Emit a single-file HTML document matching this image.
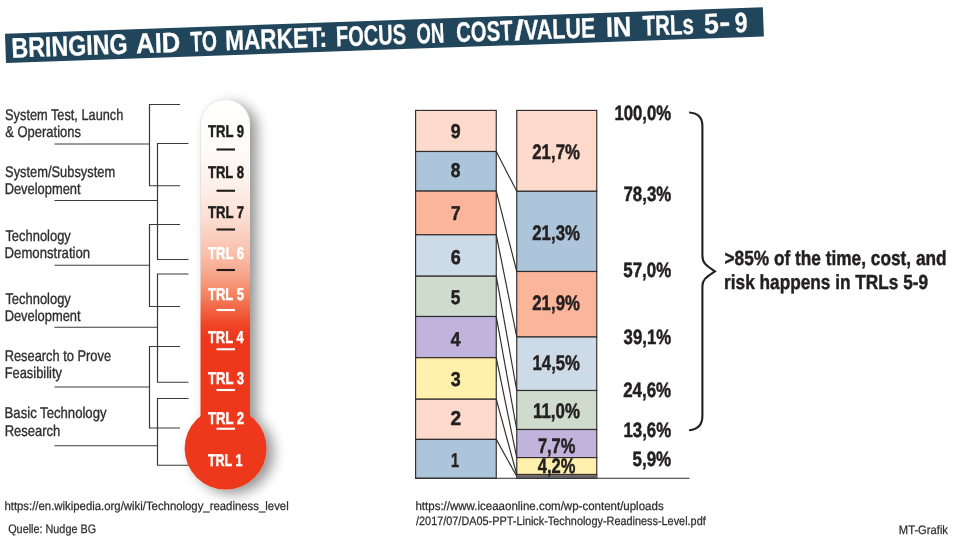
<!DOCTYPE html>
<html lang="en"><head><meta charset="utf-8"><title>Bringing AID to market</title>
<style>
html,body{margin:0;padding:0;background:#fff;}
body{width:960px;height:539px;overflow:hidden;}
svg{display:block;font-family:'Liberation Sans',sans-serif;}
text{white-space:pre;}
</style></head><body>
<svg width="960" height="539" viewBox="0 0 960 539" font-family="Liberation Sans, sans-serif" text-rendering="geometricPrecision">
<rect width="960" height="539" fill="#ffffff"/>
<g transform="translate(5,33.75) rotate(-2.0)">
<rect x="0" y="0" width="758.3" height="29.2" fill="#21455b"/>
<text y="24.1" font-size="28.2" font-weight="bold" fill="#ffffff" stroke="#ffffff" stroke-width="0.3" xml:space="preserve"><tspan x="5.86" textLength="116.06" lengthAdjust="spacingAndGlyphs">BRINGING</tspan> <tspan x="130.6" textLength="44.24" lengthAdjust="spacingAndGlyphs">AID</tspan> <tspan x="185.06" textLength="26.44" lengthAdjust="spacingAndGlyphs">TO</tspan> <tspan x="219.78" textLength="101.75" lengthAdjust="spacingAndGlyphs">MARKET:</tspan> <tspan x="330.52" textLength="70.17" lengthAdjust="spacingAndGlyphs">FOCUS</tspan> <tspan x="411.15" textLength="27.77" lengthAdjust="spacingAndGlyphs">ON</tspan> <tspan x="450.9" textLength="56.38" lengthAdjust="spacingAndGlyphs">COST</tspan><tspan x="509.08" textLength="9.79" lengthAdjust="spacingAndGlyphs">/</tspan><tspan x="518.73" textLength="71.33" lengthAdjust="spacingAndGlyphs">VALUE</tspan> <tspan x="600.82" textLength="25.43" lengthAdjust="spacingAndGlyphs">IN</tspan> <tspan x="637.62" textLength="51.1" lengthAdjust="spacingAndGlyphs">TRLs</tspan> <tspan x="698.76" textLength="14.88" lengthAdjust="spacingAndGlyphs">5</tspan><tspan x="714.1" dy="-1.3" textLength="11.02" lengthAdjust="spacingAndGlyphs">-</tspan><tspan x="729.6" dy="1.3" textLength="12.87" lengthAdjust="spacingAndGlyphs">9</tspan></text>
</g>
<text x="5.12" y="120" font-size="15.5" font-weight="normal" fill="#2e2e2e" stroke="#2e2e2e" stroke-width="0.35" textLength="118.21" lengthAdjust="spacingAndGlyphs">System Test, Launch</text>
<text x="5.24" y="137" font-size="15.5" font-weight="normal" fill="#2e2e2e" stroke="#2e2e2e" stroke-width="0.35" textLength="75.72" lengthAdjust="spacingAndGlyphs">&amp; Operations</text>
<text x="5.12" y="177" font-size="15.5" font-weight="normal" fill="#2e2e2e" stroke="#2e2e2e" stroke-width="0.35" textLength="109.98" lengthAdjust="spacingAndGlyphs">System/Subsystem</text>
<text x="4.64" y="194" font-size="15.5" font-weight="normal" fill="#2e2e2e" stroke="#2e2e2e" stroke-width="0.35" textLength="75.95" lengthAdjust="spacingAndGlyphs">Development</text>
<text x="5.41" y="241" font-size="15.5" font-weight="normal" fill="#2e2e2e" stroke="#2e2e2e" stroke-width="0.35" textLength="65.37" lengthAdjust="spacingAndGlyphs">Technology</text>
<text x="4.62" y="258" font-size="15.5" font-weight="normal" fill="#2e2e2e" stroke="#2e2e2e" stroke-width="0.35" textLength="85.48" lengthAdjust="spacingAndGlyphs">Demonstration</text>
<text x="5.41" y="304" font-size="15.5" font-weight="normal" fill="#2e2e2e" stroke="#2e2e2e" stroke-width="0.35" textLength="65.37" lengthAdjust="spacingAndGlyphs">Technology</text>
<text x="4.64" y="321" font-size="15.5" font-weight="normal" fill="#2e2e2e" stroke="#2e2e2e" stroke-width="0.35" textLength="75.95" lengthAdjust="spacingAndGlyphs">Development</text>
<text x="4.65" y="361" font-size="15.5" font-weight="normal" fill="#2e2e2e" stroke="#2e2e2e" stroke-width="0.35" textLength="106.43" lengthAdjust="spacingAndGlyphs">Research to Prove</text>
<text x="4.64" y="378" font-size="15.5" font-weight="normal" fill="#2e2e2e" stroke="#2e2e2e" stroke-width="0.35" textLength="57.38" lengthAdjust="spacingAndGlyphs">Feasibility</text>
<text x="4.62" y="418" font-size="15.5" font-weight="normal" fill="#2e2e2e" stroke="#2e2e2e" stroke-width="0.35" textLength="101.9" lengthAdjust="spacingAndGlyphs">Basic Technology</text>
<text x="4.63" y="436" font-size="15.5" font-weight="normal" fill="#2e2e2e" stroke="#2e2e2e" stroke-width="0.35" textLength="55.71" lengthAdjust="spacingAndGlyphs">Research</text>
<polyline points="180,104.5 149.5,104.5 149.5,185.75 180,185.75" fill="none" stroke="#3a3a3a" stroke-width="1.2"/>
<polyline points="180,224.5 149.5,224.5 149.5,306.5 180,306.5" fill="none" stroke="#3a3a3a" stroke-width="1.2"/>
<polyline points="180,346.5 149.5,346.5 149.5,428 180,428" fill="none" stroke="#3a3a3a" stroke-width="1.2"/>
<polyline points="188.5,143.5 157.5,143.5 157.5,259.5 188.5,259.5" fill="none" stroke="#3a3a3a" stroke-width="1.2"/>
<polyline points="188.5,274 157.5,274 157.5,382.25 188.5,382.25" fill="none" stroke="#3a3a3a" stroke-width="1.2"/>
<polyline points="188.5,398.5 157.5,398.5 157.5,465.25 188.5,465.25" fill="none" stroke="#3a3a3a" stroke-width="1.2"/>
<line x1="54.5" y1="144" x2="149.5" y2="144" stroke="#3a3a3a" stroke-width="1.2"/>
<line x1="54.5" y1="200.5" x2="157.5" y2="200.5" stroke="#3a3a3a" stroke-width="1.2"/>
<line x1="54.5" y1="265.25" x2="149.5" y2="265.25" stroke="#3a3a3a" stroke-width="1.2"/>
<line x1="54.5" y1="327.25" x2="157.5" y2="327.25" stroke="#3a3a3a" stroke-width="1.2"/>
<line x1="54.5" y1="387" x2="149.5" y2="387" stroke="#3a3a3a" stroke-width="1.2"/>
<line x1="54.5" y1="445.75" x2="157.5" y2="445.75" stroke="#3a3a3a" stroke-width="1.2"/>
<defs>
<linearGradient id="tg" x1="0" y1="99" x2="0" y2="420" gradientUnits="userSpaceOnUse">
<stop offset="0.0000" stop-color="#ffffff"/>
<stop offset="0.1589" stop-color="#fffbf9"/>
<stop offset="0.2835" stop-color="#fdeee8"/>
<stop offset="0.3614" stop-color="#fce0d5"/>
<stop offset="0.4237" stop-color="#fbd0c0"/>
<stop offset="0.4860" stop-color="#f9bda8"/>
<stop offset="0.5483" stop-color="#f7a58b"/>
<stop offset="0.6106" stop-color="#f4825f"/>
<stop offset="0.6573" stop-color="#f16342"/>
<stop offset="0.7040" stop-color="#ef4526"/>
<stop offset="0.7383" stop-color="#ee391d"/>
<stop offset="1.0000" stop-color="#ee371c"/>
</linearGradient>
<filter id="sh" x="-40%" y="-10%" width="200%" height="130%">
<feGaussianBlur in="SourceAlpha" stdDeviation="6.5"/>
<feOffset dx="7" dy="4" result="o"/>
<feComponentTransfer><feFuncA type="linear" slope="0.42"/></feComponentTransfer>
<feMerge><feMergeNode/><feMergeNode in="SourceGraphic"/></feMerge>
</filter>
</defs>
<g filter="url(#sh)">
<path d="M200.5,440 L200.5,124.25 A24.75,24.75 0 0 1 250,124.25 L250,440 Z" fill="url(#tg)"/>
<circle cx="225.6" cy="448.5" r="41" fill="#ee371c"/>
</g>
<path d="M200.5,300 L200.5,124.25 A24.75,24.75 0 0 1 250,124.25" fill="none" stroke="#d9d9d9" stroke-width="0.6"/>
<text x="207.95" y="137" font-size="17.1" font-weight="bold" fill="#1d1d1b" stroke="#1d1d1b" stroke-width="0.45" textLength="36.13" lengthAdjust="spacingAndGlyphs">TRL 9</text>
<text x="207.95" y="178" font-size="17.1" font-weight="bold" fill="#1d1d1b" stroke="#1d1d1b" stroke-width="0.45" textLength="36.05" lengthAdjust="spacingAndGlyphs">TRL 8</text>
<text x="207.95" y="218" font-size="17.1" font-weight="bold" fill="#1d1d1b" stroke="#1d1d1b" stroke-width="0.45" textLength="36.22" lengthAdjust="spacingAndGlyphs">TRL 7</text>
<text x="207.95" y="259" font-size="17.1" font-weight="bold" fill="#ffffff" stroke="#ffffff" stroke-width="0.45" textLength="36.12" lengthAdjust="spacingAndGlyphs">TRL 6</text>
<text x="207.95" y="300" font-size="17.1" font-weight="bold" fill="#ffffff" stroke="#ffffff" stroke-width="0.45" textLength="36.01" lengthAdjust="spacingAndGlyphs">TRL 5</text>
<text x="207.95" y="343" font-size="17.1" font-weight="bold" fill="#ffffff" stroke="#ffffff" stroke-width="0.45" textLength="35.71" lengthAdjust="spacingAndGlyphs">TRL 4</text>
<text x="207.95" y="384" font-size="17.1" font-weight="bold" fill="#ffffff" stroke="#ffffff" stroke-width="0.45" textLength="36.12" lengthAdjust="spacingAndGlyphs">TRL 3</text>
<text x="207.95" y="424" font-size="17.1" font-weight="bold" fill="#ffffff" stroke="#ffffff" stroke-width="0.45" textLength="36.17" lengthAdjust="spacingAndGlyphs">TRL 2</text>
<text x="207.96" y="466" font-size="17.1" font-weight="bold" fill="#ffffff" stroke="#ffffff" stroke-width="0.45" textLength="34.39" lengthAdjust="spacingAndGlyphs">TRL 1</text>
<line x1="216.5" y1="149.5" x2="235" y2="149.5" stroke="#1d1d1b" stroke-width="2.1"/>
<line x1="216.5" y1="190.75" x2="235" y2="190.75" stroke="#1d1d1b" stroke-width="2.1"/>
<line x1="216.5" y1="229.5" x2="235" y2="229.5" stroke="#1d1d1b" stroke-width="2.1"/>
<line x1="216.5" y1="270" x2="235" y2="270" stroke="#1d1d1b" stroke-width="2.1"/>
<line x1="216.5" y1="310" x2="235" y2="310" stroke="#ffffff" stroke-width="2.1"/>
<line x1="216.5" y1="349.25" x2="235" y2="349.25" stroke="#ffffff" stroke-width="2.1"/>
<line x1="216.5" y1="390" x2="235" y2="390" stroke="#ffffff" stroke-width="2.1"/>
<line x1="216.5" y1="428.75" x2="235" y2="428.75" stroke="#ffffff" stroke-width="2.1"/>
<rect x="415.6" y="110.4" width="80.65" height="41.1" fill="#fddacb" stroke="#2f2c2b" stroke-width="1.15"/>
<rect x="415.6" y="151.5" width="80.65" height="39.6" fill="#acc5da" stroke="#2f2c2b" stroke-width="1.15"/>
<rect x="415.6" y="191.1" width="80.65" height="43.7" fill="#fbb59a" stroke="#2f2c2b" stroke-width="1.15"/>
<rect x="415.6" y="234.8" width="80.65" height="41.4" fill="#cddbe8" stroke="#2f2c2b" stroke-width="1.15"/>
<rect x="415.6" y="276.2" width="80.65" height="40.3" fill="#cfdccd" stroke="#2f2c2b" stroke-width="1.15"/>
<rect x="415.6" y="316.5" width="80.65" height="41.2" fill="#c0b4dc" stroke="#2f2c2b" stroke-width="1.15"/>
<rect x="415.6" y="357.7" width="80.65" height="41.5" fill="#fff0ae" stroke="#2f2c2b" stroke-width="1.15"/>
<rect x="415.6" y="399.2" width="80.65" height="40.2" fill="#fddacb" stroke="#2f2c2b" stroke-width="1.15"/>
<rect x="415.6" y="439.4" width="80.65" height="38.85" fill="#acc5da" stroke="#2f2c2b" stroke-width="1.15"/>
<rect x="516.75" y="110.4" width="80.0" height="80.9" fill="#fddacb" stroke="#2f2c2b" stroke-width="1.15"/>
<rect x="516.75" y="191.3" width="80.0" height="80.2" fill="#acc5da" stroke="#2f2c2b" stroke-width="1.15"/>
<rect x="516.75" y="271.5" width="80.0" height="65.5" fill="#fbb59a" stroke="#2f2c2b" stroke-width="1.15"/>
<rect x="516.75" y="337.0" width="80.0" height="53.5" fill="#cddbe8" stroke="#2f2c2b" stroke-width="1.15"/>
<rect x="516.75" y="390.5" width="80.0" height="39.0" fill="#cfdccd" stroke="#2f2c2b" stroke-width="1.15"/>
<rect x="516.75" y="429.5" width="80.0" height="28.1" fill="#c0b4dc" stroke="#2f2c2b" stroke-width="1.15"/>
<rect x="516.75" y="457.6" width="80.0" height="16.9" fill="#fff0ae" stroke="#2f2c2b" stroke-width="1.15"/>
<rect x="516.75" y="474.5" width="80.0" height="1.8" fill="#fddacb" stroke="#2f2c2b" stroke-width="1.15"/>
<rect x="516.75" y="476.3" width="80.0" height="1.95" fill="#acc5da" stroke="#2f2c2b" stroke-width="1.15"/>
<line x1="496.25" y1="151.5" x2="516.75" y2="191.3" stroke="#2f2c2b" stroke-width="1.15"/>
<line x1="496.25" y1="191.1" x2="516.75" y2="271.5" stroke="#2f2c2b" stroke-width="1.15"/>
<line x1="496.25" y1="234.8" x2="516.75" y2="337.0" stroke="#2f2c2b" stroke-width="1.15"/>
<line x1="496.25" y1="276.2" x2="516.75" y2="390.5" stroke="#2f2c2b" stroke-width="1.15"/>
<line x1="496.25" y1="316.5" x2="516.75" y2="429.5" stroke="#2f2c2b" stroke-width="1.15"/>
<line x1="496.25" y1="357.7" x2="516.75" y2="457.6" stroke="#2f2c2b" stroke-width="1.15"/>
<line x1="496.25" y1="399.2" x2="516.75" y2="474.5" stroke="#2f2c2b" stroke-width="1.15"/>
<line x1="496.25" y1="439.4" x2="516.75" y2="476.3" stroke="#2f2c2b" stroke-width="1.15"/>
<rect x="516.75" y="474.9" width="80.0" height="1.8" fill="#7d6d66"/>
<rect x="516.75" y="476.7" width="80.0" height="1.2" fill="#62717d"/>
<line x1="415" y1="478.25" x2="689.5" y2="478.25" stroke="#2f2c2b" stroke-width="1.2"/>
<text x="450.78" y="138" font-size="20" font-weight="bold" fill="#231f20" stroke="#231f20" stroke-width="0.5" textLength="9.87" lengthAdjust="spacingAndGlyphs">9</text>
<text x="450.85" y="177" font-size="20" font-weight="bold" fill="#231f20" stroke="#231f20" stroke-width="0.5" textLength="9.69" lengthAdjust="spacingAndGlyphs">8</text>
<text x="450.96" y="220" font-size="20" font-weight="bold" fill="#231f20" stroke="#231f20" stroke-width="0.5" textLength="9.6" lengthAdjust="spacingAndGlyphs">7</text>
<text x="450.74" y="264" font-size="20" font-weight="bold" fill="#231f20" stroke="#231f20" stroke-width="0.5" textLength="10.01" lengthAdjust="spacingAndGlyphs">6</text>
<text x="450.87" y="304" font-size="20" font-weight="bold" fill="#231f20" stroke="#231f20" stroke-width="0.5" textLength="9.61" lengthAdjust="spacingAndGlyphs">5</text>
<text x="450.73" y="346" font-size="20" font-weight="bold" fill="#231f20" stroke="#231f20" stroke-width="0.5" textLength="9.76" lengthAdjust="spacingAndGlyphs">4</text>
<text x="450.79" y="386" font-size="20" font-weight="bold" fill="#231f20" stroke="#231f20" stroke-width="0.5" textLength="9.96" lengthAdjust="spacingAndGlyphs">3</text>
<text x="450.54" y="425" font-size="20" font-weight="bold" fill="#231f20" stroke="#231f20" stroke-width="0.5" textLength="10.63" lengthAdjust="spacingAndGlyphs">2</text>
<text x="450.89" y="467" font-size="20" font-weight="bold" fill="#231f20" stroke="#231f20" stroke-width="0.5" textLength="8.01" lengthAdjust="spacingAndGlyphs">1</text>
<text x="532.27" y="159" font-size="21" font-weight="bold" fill="#231f20" stroke="#231f20" stroke-width="0.5" textLength="47.68" lengthAdjust="spacingAndGlyphs">21,7%</text>
<text x="532.27" y="240" font-size="21" font-weight="bold" fill="#231f20" stroke="#231f20" stroke-width="0.5" textLength="47.68" lengthAdjust="spacingAndGlyphs">21,3%</text>
<text x="532.27" y="310" font-size="21" font-weight="bold" fill="#231f20" stroke="#231f20" stroke-width="0.5" textLength="47.68" lengthAdjust="spacingAndGlyphs">21,9%</text>
<text x="532.55" y="370" font-size="21" font-weight="bold" fill="#231f20" stroke="#231f20" stroke-width="0.5" textLength="47.39" lengthAdjust="spacingAndGlyphs">14,5%</text>
<text x="533.04" y="418" font-size="21" font-weight="bold" fill="#231f20" stroke="#231f20" stroke-width="0.5" textLength="46.91" lengthAdjust="spacingAndGlyphs">11,0%</text>
<text x="537.89" y="453" font-size="21" font-weight="bold" fill="#231f20" stroke="#231f20" stroke-width="0.5" textLength="37.54" lengthAdjust="spacingAndGlyphs">7,7%</text>
<text x="537.85" y="473" font-size="21" font-weight="bold" fill="#231f20" stroke="#231f20" stroke-width="0.5" textLength="37.58" lengthAdjust="spacingAndGlyphs">4,2%</text>
<text x="614.45" y="120" font-size="20.7" font-weight="bold" fill="#231f20" stroke="#231f20" stroke-width="0.5" textLength="56.75" lengthAdjust="spacingAndGlyphs">100,0%</text>
<text x="623.53" y="201" font-size="20.7" font-weight="bold" fill="#231f20" stroke="#231f20" stroke-width="0.5" textLength="47.67" lengthAdjust="spacingAndGlyphs">78,3%</text>
<text x="623.23" y="277" font-size="20.7" font-weight="bold" fill="#231f20" stroke="#231f20" stroke-width="0.5" textLength="47.97" lengthAdjust="spacingAndGlyphs">57,0%</text>
<text x="623.61" y="344" font-size="20.7" font-weight="bold" fill="#231f20" stroke="#231f20" stroke-width="0.5" textLength="47.58" lengthAdjust="spacingAndGlyphs">39,1%</text>
<text x="623.16" y="397" font-size="20.7" font-weight="bold" fill="#231f20" stroke="#231f20" stroke-width="0.5" textLength="48.03" lengthAdjust="spacingAndGlyphs">24,6%</text>
<text x="623.44" y="437" font-size="20.7" font-weight="bold" fill="#231f20" stroke="#231f20" stroke-width="0.5" textLength="47.75" lengthAdjust="spacingAndGlyphs">13,6%</text>
<text x="632.48" y="466" font-size="20.7" font-weight="bold" fill="#231f20" stroke="#231f20" stroke-width="0.5" textLength="38.72" lengthAdjust="spacingAndGlyphs">5,9%</text>
<path d="M689.1,112.5 C697.4,113 702.4,117 702.4,126 L702.4,256 C702.4,264 708.2,266.5 715,271.3 C708.2,276 702.4,278.5 702.4,286 L702.4,416 C702.4,425 697.4,429.5 689.1,430.2" fill="none" stroke="#231f20" stroke-width="2.1"/>
<text x="724.47" y="265" font-size="20.4" font-weight="bold" fill="#231f20" stroke="#231f20" stroke-width="0.45" textLength="222.16" lengthAdjust="spacingAndGlyphs">&gt;85% of the time, cost, and</text>
<text x="724.06" y="289" font-size="20.4" font-weight="bold" fill="#231f20" stroke="#231f20" stroke-width="0.45" textLength="204.08" lengthAdjust="spacingAndGlyphs">risk happens in TRLs 5-9</text>
<text x="4.41" y="510" font-size="12.1" font-weight="normal" fill="#2e2e2e" stroke="#2e2e2e" stroke-width="0.25" textLength="284.25" lengthAdjust="spacingAndGlyphs">https://en.wikipedia.org/wiki/Technology_readiness_level</text>
<text x="8.19" y="533" font-size="12.3" font-weight="normal" fill="#2e2e2e" stroke="#2e2e2e" stroke-width="0.25" textLength="87.92" lengthAdjust="spacingAndGlyphs">Quelle: Nudge BG</text>
<text x="415.45" y="510" font-size="12.1" font-weight="normal" fill="#2e2e2e" stroke="#2e2e2e" stroke-width="0.25" textLength="248.21" lengthAdjust="spacingAndGlyphs">https://www.iceaaonline.com/wp-content/uploads</text>
<text x="416.0" y="525" font-size="12.1" font-weight="normal" fill="#2e2e2e" stroke="#2e2e2e" stroke-width="0.25" textLength="289.73" lengthAdjust="spacingAndGlyphs">/2017/07/DA05-PPT-Linick-Technology-Readiness-Level.pdf</text>
<text x="898.83" y="534" font-size="12.2" font-weight="normal" fill="#2e2e2e" stroke="#2e2e2e" stroke-width="0.25" textLength="49.15" lengthAdjust="spacingAndGlyphs">MT-Grafik</text>
</svg>
</body></html>
